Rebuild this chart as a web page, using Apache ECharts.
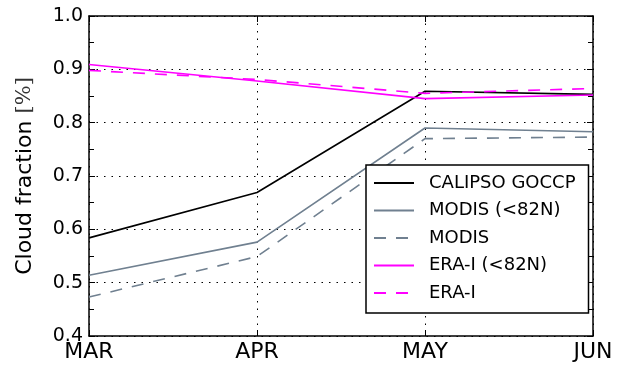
<!DOCTYPE html>
<html>
<head>
<meta charset="utf-8">
<script src="https://cdn.jsdelivr.net/npm/echarts@6/dist/echarts.min.js"></script>
<style>
  html, body { margin: 0; padding: 0; background: #fff; }
  #chart { width: 625px; height: 367px; }
</style>
</head>
<body>
<div id="chart"></div>
<script>
// Monthly cloud fraction, spring to early summer
const months = ['MAR', 'APR', 'MAY', 'JUN'];
const calipsoGoccp = [0.584, 0.669, 0.859, 0.853];
const modis82N = [0.514, 0.576, 0.790, 0.783];
const modisAll = [0.473, 0.549, 0.770, 0.773];
const eraI82N = [0.909, 0.878, 0.845, 0.852];
const eraIAll = [0.898, 0.881, 0.855, 0.864];
const yTicks = [0.4, 0.5, 0.6, 0.7, 0.8, 0.9, 1.0];

const FONT = 'DejaVu Sans';
const frame = { show: true, lineStyle: { color: '#000', width: 1.5 } };
const dotted = { show: true, lineStyle: { color: '#000', width: 1, type: [1.5, 6] } };

function line(name, data, color, dashed) {
  return {
    name: name,
    type: 'line',
    data: data,
    xAxisIndex: 0,
    yAxisIndex: 0,
    symbol: 'none',
    silent: true,
    animation: false,
    lineStyle: { color: color, width: 1.6, type: dashed ? [12, 10] : 'solid' },
    itemStyle: { color: color }
  };
}

const chart = echarts.init(document.getElementById('chart'), null, { renderer: 'canvas' });
chart.setOption({
  animation: false,
  textStyle: { fontFamily: FONT },
  grid: { left: 89, right: 32, top: 16, bottom: 31 },
  xAxis: [
    {
      type: 'category', data: months, boundaryGap: false, position: 'bottom',
      axisLine: frame,
      axisTick: { show: true, inside: true, length: 6, lineStyle: { color: '#000', width: 1 } },
      axisLabel: { color: '#000', fontSize: 22, fontFamily: FONT, margin: 5 },
      splitLine: dotted
    },
    {
      type: 'category', data: months, boundaryGap: false, position: 'top',
      axisLine: frame,
      axisTick: { show: true, inside: true, length: 6, lineStyle: { color: '#000', width: 1 } },
      axisLabel: { show: false },
      splitLine: { show: false }
    }
  ],
  yAxis: [
    {
      type: 'value', min: yTicks[0], max: yTicks[yTicks.length - 1], interval: 0.1, position: 'left',
      axisLine: frame,
      axisTick: { show: true, inside: true, length: 6, lineStyle: { color: '#000', width: 1 } },
      minorTick: { show: true, splitNumber: 2, length: 5, lineStyle: { color: '#000', width: 1 } },
      axisLabel: { color: '#000', fontSize: 19, fontFamily: FONT, margin: 6,
        formatter: v => v.toFixed(1) },
      splitLine: dotted,
      name: '{a|Cloud fraction }{b|[%]}',
      nameLocation: 'middle',
      nameGap: 53,
      nameRotate: 90,
      nameTextStyle: {
        rich: {
          a: { fontSize: 22, fontFamily: FONT, color: '#000' },
          b: { fontSize: 21, fontFamily: 'DejaVu Serif', color: '#333', fontWeight: 'lighter' }
        }
      }
    },
    {
      type: 'value', min: yTicks[0], max: yTicks[yTicks.length - 1], interval: 0.1, position: 'right',
      axisLine: frame,
      axisTick: { show: true, inside: true, length: 6, lineStyle: { color: '#000', width: 1 } },
      minorTick: { show: true, splitNumber: 2, length: 5, lineStyle: { color: '#000', width: 1 } },
      axisLabel: { show: false },
      splitLine: { show: false }
    }
  ],
  legend: {
    orient: 'vertical',
    left: 366,
    top: 165,
    itemWidth: 40,
    itemHeight: 14,
    itemGap: 9.5,
    padding: [9, 13, 11, 7],
    borderColor: '#000',
    borderWidth: 1.5,
    borderRadius: 0,
    backgroundColor: '#fff',
    selectedMode: false,
    itemStyle: { color: 'transparent', borderWidth: 0, opacity: 0 },
    textStyle: { fontSize: 18, lineHeight: 18, color: '#000', fontFamily: FONT, padding: [0, 0, 0, 10] },
    data: ['CALIPSO GOCCP', 'MODIS (<82N)', 'MODIS', 'ERA-I (<82N)', 'ERA-I']
  },
  series: [
    line('CALIPSO GOCCP', calipsoGoccp, '#000000', false),
    line('MODIS (<82N)', modis82N, '#708090', false),
    line('MODIS', modisAll, '#708090', true),
    line('ERA-I (<82N)', eraI82N, '#ff00ff', false),
    line('ERA-I', eraIAll, '#ff00ff', true)
  ]
});
</script>
</body>
</html>
